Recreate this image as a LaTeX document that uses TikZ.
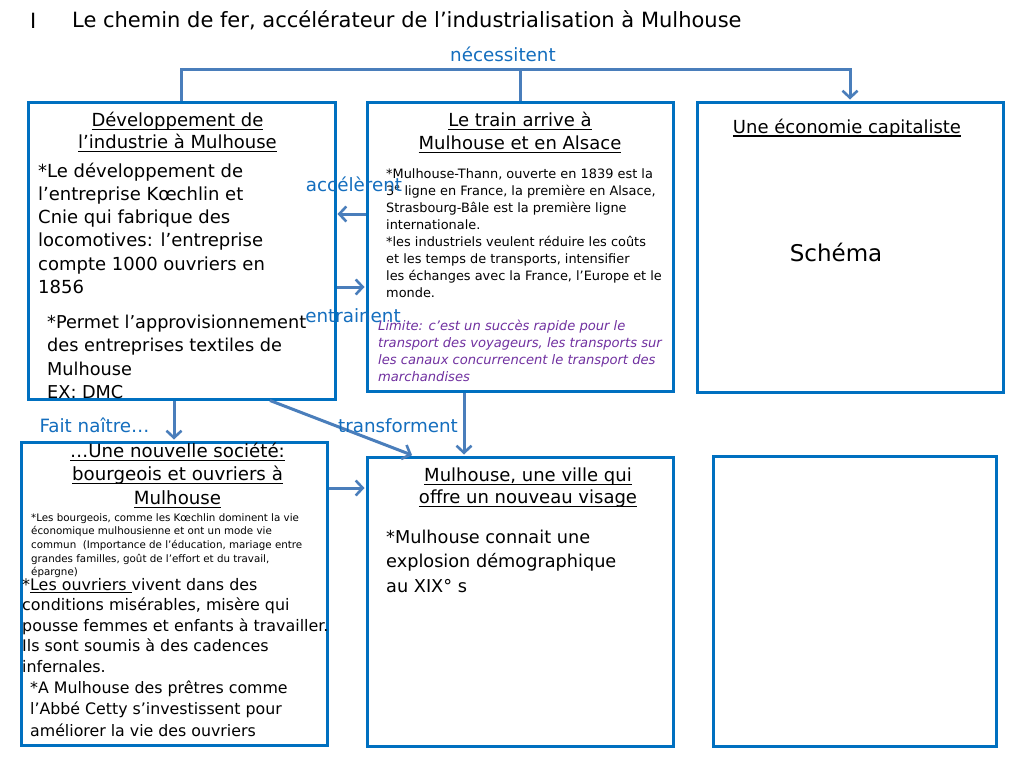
\documentclass[tikz,border=0pt]{standalone}
\usepackage{fontspec}
\setmainfont{DejaVu Sans}
\usetikzlibrary{arrows.meta}
\definecolor{boxblue}{RGB}{0,112,192}
\definecolor{arrblue}{RGB}{74,126,187}
\definecolor{lblblue}{RGB}{20,110,190}
\definecolor{limpurple}{RGB}{112,48,160}
\newcommand{\fsz}[2]{\fontsize{#1}{#2}\selectfont}
\newlength{\myullen}
\newcommand{\uln}[1]{\settowidth{\myullen}{#1}\rlap{\rule[-0.2em]{\myullen}{0.065em}}#1}
\begin{document}
\begin{tikzpicture}[x=1pt,y=-1pt,
  box/.style={draw=boxblue,line width=3pt,inner sep=0pt,rectangle},
  conn/.style={draw=arrblue,line width=3pt},
  arr/.style={conn,-{Straight Barb[length=7pt,width=15pt,line width=2.6pt]},shorten >=1pt},
  txt/.style={inner sep=0pt,anchor=north west,align=left},
  head/.style={inner sep=0pt,anchor=north,align=center},
  lbl/.style={text=lblblue,inner sep=0pt,anchor=base,font=\fsz{18.3}{22}},
]
\useasboundingbox (0,0) rectangle (1024,768);
\fill[white] (0,0) rectangle (1024,768);

% title
\node[inner sep=0pt,anchor=base west,font=\fsz{21}{25}] (num) at (30,29) {I};
\node[inner sep=0pt,anchor=base west,font=\fsz{21}{25}] (title) at (72,28) {Le chemin de fer, accélérateur de l’industrialisation à Mulhouse};

% boxes
\node[box,minimum width=307pt,minimum height=297pt] (A) at (181.5,250.5) {};
\node[box,minimum width=306pt,minimum height=289pt] (B) at (520,246.5) {};
\node[box,minimum width=306pt,minimum height=290pt] (C) at (850,247) {};
\node[box,minimum width=306pt,minimum height=303pt] (D) at (174,593.5) {};
\node[box,minimum width=306pt,minimum height=289pt] (E) at (520,601.5) {};
\node[box,minimum width=283pt,minimum height=290pt] (F) at (854.5,601) {};

% box A text
\node[head,font=\fsz{18}{22}] (Ah) at (177.5,110.6) {\strut\uln{Développement de}\\\uln{l’industrie à Mulhouse}};
\node[txt,font=\fsz{18}{23.2}] (Ab1) at (38,160.8) {\strut*Le développement de\\l’entreprise Kœchlin et\\Cnie qui fabrique des\\locomotives: l’entreprise\\compte 1000 ouvriers en\\1856};
\node[txt,font=\fsz{17.7}{23.5}] (Ab2) at (47,311.5) {\strut*Permet l’approvisionnement\\des entreprises textiles de\\Mulhouse\\EX: DMC};

% box B text
\node[head,font=\fsz{18}{23}] (Bh) at (520,109.9) {\strut\uln{Le train arrive à}\\\uln{Mulhouse et en Alsace}};
\node[txt,font=\fsz{12.9}{17}] (Bb) at (386,166.1) {\strut*Mulhouse-Thann, ouverte en 1839 est la\\3\textsuperscript{e} ligne en France, la première en Alsace,\\Strasbourg-Bâle est la première ligne\\internationale.\\*les industriels veulent réduire les coûts\\et les temps de transports, intensifier\\les échanges avec la France, l’Europe et le\\monde.};
\node[txt,text=limpurple,font=\fsz{13.1}{17}\itshape] (Bl) at (378,318.1) {\strut Limite: c’est un succès rapide pour le\\transport des voyageurs, les transports sur\\les canaux concurrencent le transport des\\marchandises};

% box C text
\node[inner sep=0pt,anchor=base,font=\fsz{18}{22}] (Ch) at (847,133) {\uln{Une économie capitaliste}};
\node[inner sep=0pt,anchor=base,font=\fsz{23}{28}] (Cs) at (836,261) {Schéma};

% box D text
\node[head,font=\fsz{18.2}{23.5}] (Dh) at (177.5,440.5) {\strut\uln{…Une nouvelle société:}\\\uln{bourgeois et ouvriers à}\\\uln{Mulhouse}};
\node[txt,font=\fsz{10.3}{13.7}] (Db1) at (31,511.4) {\strut*Les bourgeois, comme les Kœchlin dominent la vie\\économique mulhousienne et ont un mode vie\\commun\ \ (Importance de l’éducation, mariage entre\\grandes familles, goût de l’effort et du travail,\\épargne)};
\node[txt,font=\fsz{15.9}{20.5}] (Db2) at (22,575.6) {\strut*\uln{Les ouvriers }vivent dans des\\conditions misérables, misère qui\\pousse femmes et enfants à travailler.\\Ils sont soumis à des cadences\\infernales.};
\node[txt,font=\fsz{15.8}{21.5}] (Db3) at (30,678) {\strut*A Mulhouse des prêtres comme\\l’Abbé Cetty s’investissent pour\\améliorer la vie des ouvriers};

% box E text
\node[head,font=\fsz{18}{22.5}] (Eh) at (528,465.2) {\strut\uln{Mulhouse, une ville qui}\\\uln{offre un nouveau visage}};
\node[txt,font=\fsz{17.7}{24.5}] (Eb) at (386,525.9) {\strut*Mulhouse connait une\\explosion démographique\\au XIX° s};

% helper coordinates
\coordinate (topline) at (0,69);
\coordinate (accY) at (0,214);
\coordinate (entY) at (0,287);
\coordinate (faitX) at (174,0);
\coordinate (trS) at (270,0);
\coordinate (trE) at (413,0);
\coordinate (bX) at (464,0);
\coordinate (dY) at (0,488);

% connectors
\draw[conn] (B.north) -- (B.north |- topline);
\draw[arr] (A.north) -- (A.north |- topline) -- (C.north |- topline) -- (C.north);
\draw[arr] (B.west |- accY) -- (A.east |- accY);
\draw[arr] (A.east |- entY) -- (B.west |- entY);
\draw[arr] (A.south -| faitX) -- (D.north -| faitX);
\draw[arr] (A.south -| trS) -- (E.north -| trE);
\draw[arr] (B.south -| bX) -- (E.north -| bX);
\draw[arr] (D.east |- dY) -- (E.west |- dY);

% labels
\node[lbl] (lnec) at (503,61.5) {nécessitent};
\node[lbl] (lacc) at (354,191) {accélèrent};
\node[lbl] (lent) at (353,322) {entrainent};
\node[lbl] (lfait) at (94.5,432) {Fait naître…};
\node[lbl] (ltr) at (398,432) {transforment};
\end{tikzpicture}
\end{document}
